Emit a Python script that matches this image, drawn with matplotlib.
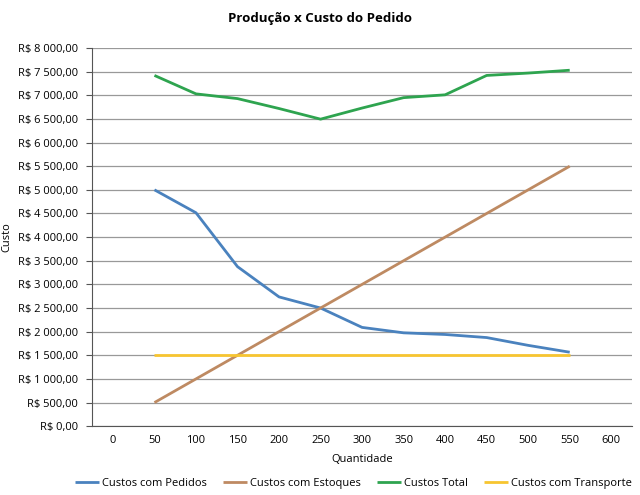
import matplotlib
matplotlib.use("Agg")
import matplotlib.pyplot as plt

plt.rcParams['font.family'] = ['Open Sans', 'DejaVu Sans']

categorias = [0, 50, 100, 150, 200, 250, 300, 350, 400, 450, 500, 550, 600]
quantidade = [50, 100, 150, 200, 250, 300, 350, 400, 450, 500, 550]

custos_pedidos = [5000, 4515, 3375, 2735, 2500, 2090, 1975, 1940, 1875, 1710, 1565]
custos_estoques = [500, 1000, 1500, 2000, 2500, 3000, 3500, 4000, 4500, 5000, 5500]
custos_total = [7420, 7030, 6930, 6720, 6495, 6730, 6950, 7010, 7420, 7470, 7530]
custos_transporte = [1500] * 11

series = [
    ("Custos com Pedidos", custos_pedidos, "#4A82BE"),
    ("Custos com Estoques", custos_estoques, "#BE8A62"),
    ("Custos Total", custos_total, "#2EA44F"),
    ("Custos com Transporte", custos_transporte, "#F7C530"),
]

fig = plt.figure(figsize=(6.4, 4.95), dpi=100)
ax = fig.add_axes([0.144, 0.139, 0.8435, 0.764])

pos = {c: i for i, c in enumerate(categorias)}
xs = [pos[q] for q in quantidade]
for nome, vals, cor in series:
    ax.plot(xs, vals, color=cor, lw=2.0, label=nome, solid_capstyle='butt')

ax.set_xlim(-0.5, len(categorias) - 0.5)
ax.set_xticks(range(len(categorias)))
ax.set_xticklabels([str(c) for c in categorias])
ax.set_ylim(0, 8000)
ax.set_yticks(range(0, 8001, 500))


def fmt(v):
    s = f"{int(v):,}".replace(",", " ")
    return f"R$ {s},00"


ax.set_yticklabels([fmt(v) for v in range(0, 8001, 500)])
ax.tick_params(labelsize=8, length=0, pad=6)
ax.tick_params(axis='y', length=4, direction='out', color='#555555')
ax.yaxis.grid(True, color='#999999', lw=0.9)
ax.set_axisbelow(True)
for s in ['top', 'right']:
    ax.spines[s].set_visible(False)
ax.spines['left'].set_color('#555555')
ax.spines['bottom'].set_color('#555555')

ax.set_xlabel("Quantidade", fontsize=8, labelpad=6)
ax.set_ylabel("Custo", fontsize=8, labelpad=4)
fig.text(0.5, 0.963, "Produção x Custo do Pedido", ha='center', va='center',
         fontsize=9.5, fontweight='bold')

fig.legend(loc='center', bbox_to_anchor=(0.552, 0.024), ncol=4, frameon=False,
           fontsize=8, handlelength=2.15, handletextpad=0.27, columnspacing=1.45,
           borderpad=0.2)

fig.savefig("out.png", dpi=100)
